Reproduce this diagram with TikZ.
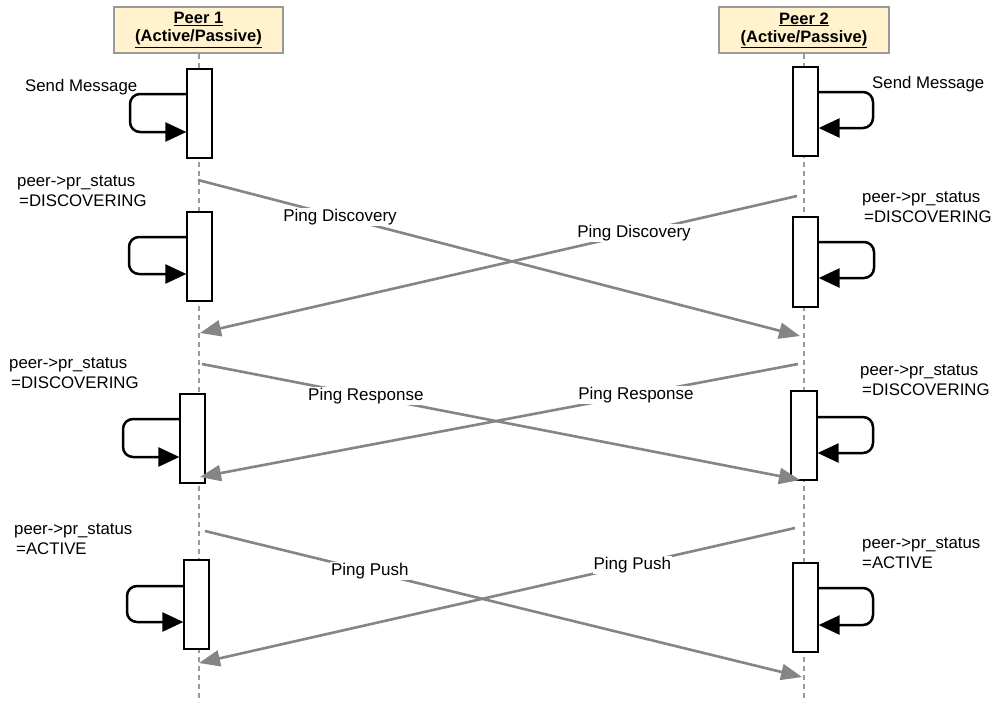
\documentclass[tikz,border=0pt]{standalone}
\usepackage{fontspec}
\setmainfont{Liberation Sans}
\usetikzlibrary{arrows.meta}
\definecolor{hdrfill}{HTML}{FFF2CC}
\definecolor{hdrline}{HTML}{9A9A9A}
\definecolor{msggray}{HTML}{858585}
\begin{document}
\begin{tikzpicture}[x=1pt,y=-1pt,
  header/.style={draw=hdrline, line width=2pt, fill=hdrfill, minimum width=169pt,
    minimum height=46pt, inner sep=0pt, align=center,
    font=\fontsize{16.5}{18}\selectfont\bfseries},
  lifeline/.style={draw=hdrline, line width=2pt, dash pattern=on 5pt off 4pt},
  actbox/.style={draw=black, line width=1.2pt, fill=white, minimum width=25pt,
    minimum height=89pt, inner sep=0pt},
  selfloop/.style={draw=black, line width=2.5pt, rounded corners=10pt,
    -{Triangle[length=21pt,width=19pt]}},
  msg/.style={draw=msggray, line width=2.6pt, -{Triangle[length=21pt,width=16pt]}},
  msglabel/.style={fill=white, inner sep=1pt, text=black,
    font=\fontsize{17}{19}\selectfont},
  note/.style={inner sep=0pt, anchor=base west, align=left,
    font=\fontsize{16.8}{19.5}\selectfont},
]
\useasboundingbox (0,0) rectangle (995,702);
\fill[white] (0,0) rectangle (995,702);

% participants
\node[header] (h1) at (198.5,30) {\underline{Peer 1}\\\underline{(Active/Passive)}};
\node[header, minimum width=170pt] (h2) at (804,30) {\underline{Peer 2}\\\underline{(Active/Passive)}};

% lifelines
\coordinate (e1) at (198.5,702);
\coordinate (e2) at (804,702);
\draw[lifeline] (h1.south) -- (e1);
\draw[lifeline] (h2.south) -- (e2);

% activation bars
\node[actbox] (a1) at (199.5,113.5) {};
\node[actbox] (a2) at (199.5,256.5) {};
\node[actbox] (a3) at (192.5,438.5) {};
\node[actbox] (a4) at (196.5,604.5) {};
\node[actbox] (b1) at (805.5,111.5) {};
\node[actbox, minimum height=90pt] (b2) at (805.5,262) {};
\node[actbox, minimum width=26pt] (b3) at (804,435.5) {};
\node[actbox] (b4) at (805.5,607.5) {};

% self messages
\draw[selfloop] (a1.west |- 0,94) -- (130,94) -- (130,132) -- (a1.west |- 0,132);
\draw[selfloop] (a2.west |- 0,237) -- (129,237) -- (129,274) -- (a2.west |- 0,274);
\draw[selfloop] (a3.west |- 0,419) -- (123,419) -- (123,457) -- (a3.west |- 0,457);
\draw[selfloop] (a4.west |- 0,586) -- (127,586) -- (127,622) -- (a4.west |- 0,622);
\draw[selfloop] (b1.east |- 0,92) -- (873,92) -- (873,128) -- (b1.east |- 0,128);
\draw[selfloop] (b2.east |- 0,242) -- (874,242) -- (874,278) -- (b2.east |- 0,278);
\draw[selfloop] (b3.east |- 0,417) -- (873,417) -- (873,453) -- (b3.east |- 0,453);
\draw[selfloop] (b4.east |- 0,588) -- (873,588) -- (873,625) -- (b4.east |- 0,625);

% self message texts
\node[note] (t1) at (25,91) {Send Message};
\node[note] (t2) at (872,88) {Send Message};
\node[note] (t3) at (17,206) {peer->pr\_status\\\hspace*{2pt}=DISCOVERING};
\node[note] (t4) at (862,222) {peer->pr\_status\\\hspace*{2pt}=DISCOVERING};
\node[note] (t5) at (9,388) {peer->pr\_status\\\hspace*{2pt}=DISCOVERING};
\node[note] (t6) at (860,395) {peer->pr\_status\\\hspace*{2pt}=DISCOVERING};
\node[note] (t7) at (14,554) {peer->pr\_status\\\hspace*{2pt}=ACTIVE};
\node[note] (t8) at (862,568) {peer->pr\_status\\=ACTIVE};

% message end points on the lifelines
\coordinate (p1s1) at (198,180);  \coordinate (p2e1) at (800,336);
\coordinate (p2s1) at (797,196);  \coordinate (p1e1) at (200,333);
\coordinate (p1s2) at (202,364);  \coordinate (p2e2) at (800,480);
\coordinate (p2s2) at (798,364);  \coordinate (p1e2) at (200,477);
\coordinate (p1s3) at (205,531);  \coordinate (p2e3) at (802,677);
\coordinate (p2s3) at (795,528);  \coordinate (p1e3) at (199,663);

% messages between the peers
\draw[msg] (p1s1) -- node[msglabel, pos=0.236] (l1) {Ping Discovery} (p2e1);
\draw[msg] (p2s1) -- node[msglabel, pos=0.273] (l2) {Ping Discovery} (p1e1);
\draw[msg] (p1s2) -- node[msglabel, pos=0.274] (l3) {Ping Response} (p2e2);
\draw[msg] (p2s2) -- node[msglabel, pos=0.271] (l4) {Ping Response} (p1e2);
\draw[msg] (p1s3) -- node[msglabel, pos=0.276] (l5) {Ping Push} (p2e3);
\draw[msg] (p2s3) -- node[msglabel, pos=0.273] (l6) {Ping Push} (p1e3);
\end{tikzpicture}
\end{document}
